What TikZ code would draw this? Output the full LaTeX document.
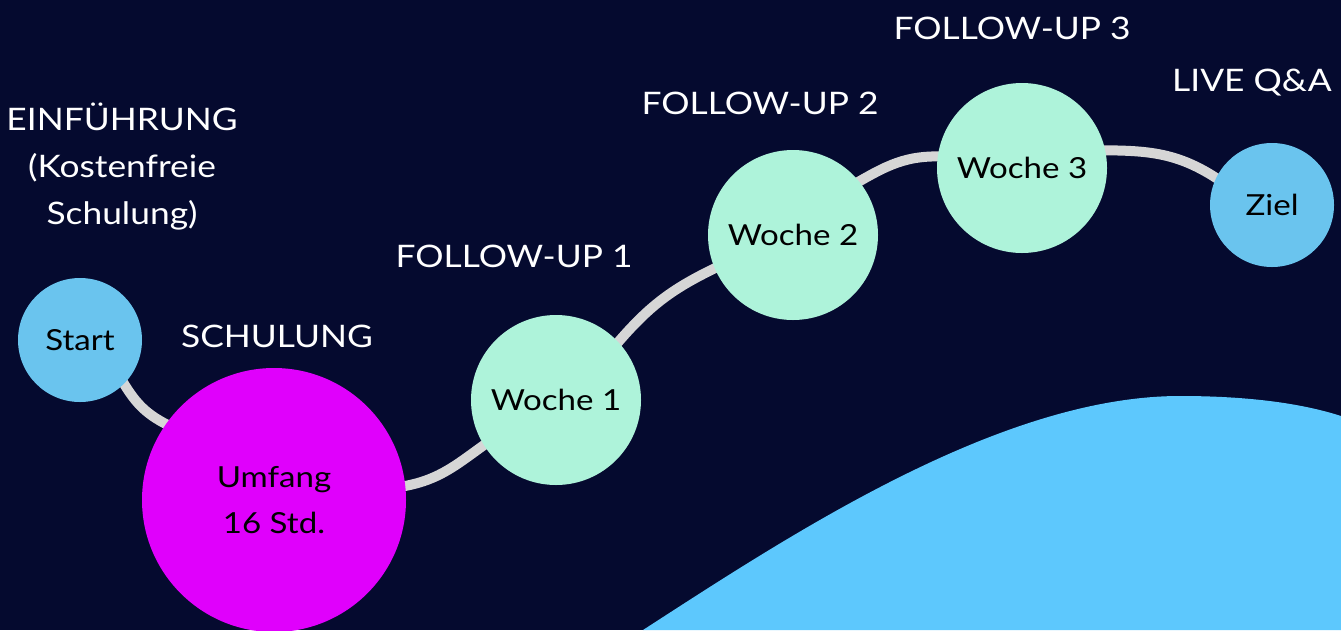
\documentclass[tikz,border=0pt]{standalone}
\usepackage{fontspec}
\setmainfont{Lato}[FakeStretch=1.14]
\usetikzlibrary{backgrounds}
\pgfdeclarelayer{bglayer}
\pgfsetlayers{bglayer,background,main}
\definecolor{bgnavy}{RGB}{5,10,47}
\definecolor{startblue}{RGB}{106,196,238}
\definecolor{umfmag}{RGB}{224,0,252}
\definecolor{mint}{RGB}{174,243,218}
\definecolor{wave}{RGB}{93,200,253}
\definecolor{road}{RGB}{214,214,214}
\tikzset{
  stepnode/.style={circle,inner sep=0pt,text=black,align=center,font=\fontsize{29}{46}\selectfont},
  bluenode/.style={stepnode,fill=startblue,minimum size=124pt},
  weeknode/.style={stepnode,fill=mint,minimum size=170pt},
  magnode/.style={stepnode,fill=umfmag,minimum size=264pt},
  lbl/.style={text=white,align=center,inner sep=0pt,font=\fontsize{31}{47}\selectfont},
  road/.style={draw=road,line width=10pt,shorten <=-10pt,shorten >=-10pt}
}
\begin{document}
\begin{tikzpicture}[x=1pt,y=-1pt]
\useasboundingbox (0,0) rectangle (1341,630);
\clip (0,0) rectangle (1341,630);
% circles
\node[bluenode] (start) at (80,340) {Start};
\node[magnode] (umf) at (274,500) {Umfang\\16 Std.};
\node[weeknode] (w1) at (556,400) {Woche 1};
\node[weeknode] (w2) at (793,235) {Woche 2};
\node[weeknode] (w3) at (1022,168) {Woche 3};
\node[bluenode] (ziel) at (1272,205) {Ziel};
% labels
\node[lbl] (l0) at (122,167) {EINFÜHRUNG\\(Kostenfreie\\Schulung)};
\node[lbl] (l1) at (277,336) {SCHULUNG};
\node[lbl] (l2) at (514,256) {FOLLOW-UP 1};
\node[lbl] (l3) at (760,103) {FOLLOW-UP 2};
\node[lbl] (l4) at (1012,28) {FOLLOW-UP 3};
\node[lbl] (l5) at (1252,83) {LIVE Q\&A};
% road
\begin{pgfonlayer}{background}
\draw[road] (start.-45) to[out=-60,in=155] (umf.145);
\draw[road] (umf.6) to[out=8,in=215] (w1.212);
\draw[road] (w1.43) to[out=50,in=205] (w2.203);
\draw[road] (w2.39) to[out=30,in=177] (w3.172);
\draw[road] (w3.12) to[out=0,in=145] (ziel.154);
\end{pgfonlayer}
% background and wave
\begin{pgfonlayer}{bglayer}
\fill[bgnavy] (0,0) rectangle (1341,630);
\fill[wave] (643,630) .. controls (790,535) and (1000,396) .. (1180,396)
  .. controls (1260,396) and (1310,406) .. (1341,416) -- (1341,630) -- cycle;
\end{pgfonlayer}
\end{tikzpicture}
\end{document}
